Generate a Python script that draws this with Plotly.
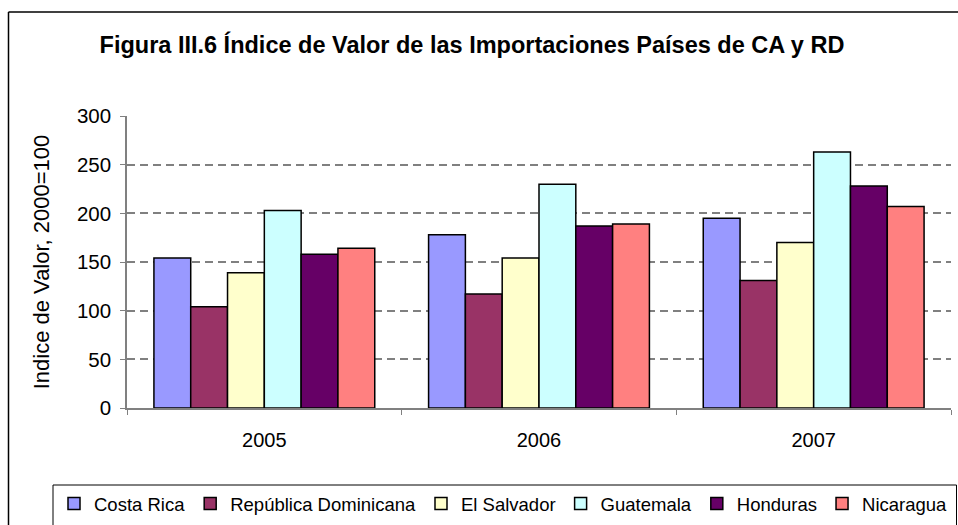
import plotly.graph_objects as go

years = ["2005", "2006", "2007"]
countries = ["Costa Rica", "República Dominicana", "El Salvador", "Guatemala", "Honduras", "Nicaragua"]
costa_rica = [154, 178, 195]
rep_dominicana = [104, 117, 131]
el_salvador = [139, 154, 170]
guatemala = [203, 230, 263]
honduras = [158, 187, 228]
nicaragua = [164, 189, 207]
series = [costa_rica, rep_dominicana, el_salvador, guatemala, honduras, nicaragua]
colors = ["#9999FF", "#993366", "#FFFFCC", "#CCFFFF", "#660066", "#FF8080"]
yticks = [0, 50, 100, 150, 200, 250, 300]

FONT = "Liberation Sans, Arial, sans-serif"

# page body margin is removed by the post script, so figure pixels = page pixels
W, H = 958, 525
# plot area in page pixels: x 127..951, y 116..408
PL, PR, PT, PB = 127, 951, 116, 408
L, R, T, B = PL, W - PR, PT, H - PB
pw, ph = W - L - R, H - T - B

def px(x):
    return (x - L) / pw

def py(y):
    return (H - B - y) / ph

fig = go.Figure()
for name, vals, col in zip(countries, series, colors):
    fig.add_trace(go.Bar(
        x=years, y=vals, name=name,
        marker=dict(color=col, line=dict(color="black", width=1.5)),
    ))

fig.update_layout(
    width=W, height=H,
    margin=dict(l=L, r=R, t=T, b=B, autoexpand=False),
    paper_bgcolor="white", plot_bgcolor="white",
    barmode="group", bargap=0.196, bargroupgap=0,
    font=dict(family=FONT, color="black"),
    showlegend=True,
    legend=dict(
        orientation="h", x=px(54), y=py(504), xanchor="left", yanchor="middle",
        font=dict(size=18.5, family=FONT), bgcolor="rgba(0,0,0,0)",
        itemwidth=30, traceorder="normal",
    ),
    title=dict(
        text="<b>Figura III.6 Índice de Valor de las Importaciones Países de CA y RD</b>",
        x=472 / W, xanchor="center", y=1 - 45 / H, yanchor="middle",
        font=dict(size=23.5, family=FONT, color="black"),
    ),
)

fig.update_xaxes(
    automargin=False,
    showline=True, linecolor="#808080", linewidth=1.5,
    ticks="outside", tickson="boundaries", ticklen=5, tickcolor="#808080",
    tickfont=dict(size=20, family=FONT), showgrid=False,
    ticklabelstandoff=13,
)
fig.update_yaxes(
    automargin=False,
    range=[0, 300], tickvals=yticks,
    showline=True, linecolor="#808080", linewidth=1.5,
    ticks="outside", ticklen=5, tickcolor="#808080",
    tickfont=dict(size=20.5, family=FONT), ticklabelstandoff=5,
    showgrid=True, gridcolor="#808080", griddash="8px,5px", gridwidth=1.5,
    zeroline=False,
    title=dict(text="Indice de Valor, 2000=100", font=dict(size=22, family=FONT), standoff=21),
)

# outer chart border (left and top edges; right and bottom lie outside the view)
fig.add_shape(type="line", xref="paper", yref="paper",
              x0=px(8.5), x1=px(8.5), y0=py(12), y1=py(540),
              line=dict(color="black", width=1.5), layer="below")
fig.add_shape(type="line", xref="paper", yref="paper",
              x0=px(8.5), x1=px(970), y0=py(12), y1=py(12),
              line=dict(color="black", width=1.5), layer="below")
# legend box (left, top, right edges)
fig.add_shape(type="path", xref="paper", yref="paper",
              path=(f"M {px(53)} {py(540)} L {px(53)} {py(485)} "
                    f"L {px(956.5)} {py(485)} L {px(956.5)} {py(540)}"),
              line=dict(color="black", width=1), layer="below")

post = ("document.body.style.margin='0';"
        "document.body.style.overflow='hidden';"
        "document.documentElement.style.overflow='hidden';")
fig.write_html("out.html", post_script=post, config={"displayModeBar": False})
